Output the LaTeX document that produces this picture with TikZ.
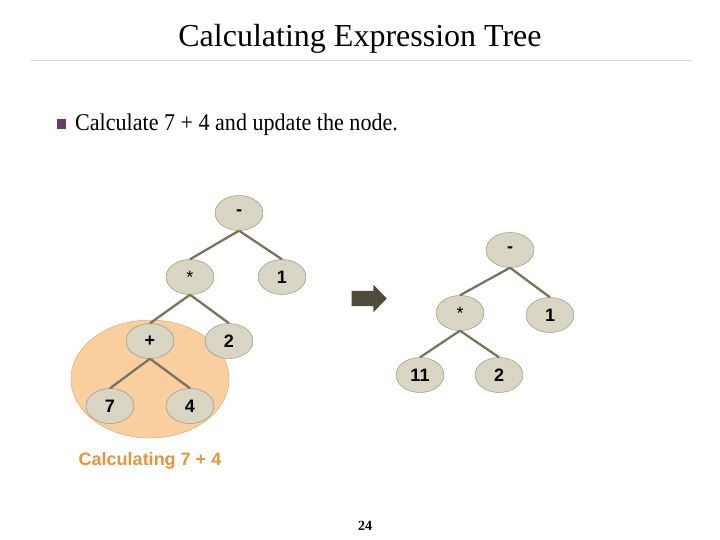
\documentclass[tikz,border=0pt]{standalone}
\usepackage{fontspec}
\setmainfont{Liberation Serif}
\setsansfont{Liberation Sans}
\usetikzlibrary{shapes.geometric, shapes.arrows}

\definecolor{nodefill}{HTML}{D8D6C2}
\definecolor{nodeline}{HTML}{8C8A72}
\definecolor{edgecol}{HTML}{78755C}
\definecolor{arrowcol}{HTML}{4E4D38}
\definecolor{hilite}{HTML}{F9CFA0}
\definecolor{hiliteline}{HTML}{E0A060}
\definecolor{orangetext}{HTML}{E8953A}
\definecolor{bulletcol}{HTML}{6A3C6C}

\begin{document}
\begin{tikzpicture}[
  x=1pt, y=-1pt,
  tnode/.style={draw=nodeline, fill=nodefill, ellipse, minimum width=48pt, minimum height=35pt,
    inner sep=0pt, font=\sffamily\bfseries\fontsize{18}{20}\selectfont},
  edge/.style={edgecol, line width=2.3pt}
]
\useasboundingbox (0,0) rectangle (720,540);

% title and bullet
\node[anchor=base] (title) at (360,47) {\fontsize{32}{36}\selectfont Calculating Expression Tree};
\draw[black!15, line width=0.8pt] (30,60) -- (692,60);
\node[fill=bulletcol, minimum width=9pt, minimum height=10pt, inner sep=0pt] (bullet) at (61.5,124) {};
\node[anchor=base west, inner sep=0pt, xscale=0.92] (task) at (75,131)
  {\fontsize{24}{28}\selectfont Calculate 7 + 4 and update the node.};

% highlighted subtree
\node[draw=hiliteline, fill=hilite, ellipse, minimum width=158pt, minimum height=118pt] (zone) at (150,379) {};

% tree before
\node[tnode] (minus) at (239,213) {-};
\node[tnode] (times) at (190,277) {\mdseries *};
\node[tnode] (one) at (282,277) {1};
\node[tnode] (plus) at (150,341) {+};
\node[tnode] (two) at (229,341) {2};
\node[tnode] (seven) at (110,406) {7};
\node[tnode] (four) at (190,406) {4};
\draw[edge] (minus.south) -- (times.north);
\draw[edge] (minus.south) -- (one.north);
\draw[edge] (times.south) -- (plus.north);
\draw[edge] (times.south) -- (two.north);
\draw[edge] (plus.south) -- (seven.north);
\draw[edge] (plus.south) -- (four.north);

\node[text=orangetext, font=\sffamily\bfseries\fontsize{18}{20}\selectfont] (caption) at (150,461) {Calculating 7 + 4};

% arrow between trees
\node[single arrow, fill=arrowcol, minimum height=35pt, minimum width=0pt, inner sep=7.5pt,
  single arrow head extend=6pt, single arrow tip angle=92] (step) at (365.5,298.5) {};

% tree after
\node[tnode] (rminus) at (510,250) {-};
\node[tnode] (rtimes) at (460,313) {\mdseries *};
\node[tnode] (rone) at (550,315) {1};
\node[tnode] (releven) at (420,375) {11};
\node[tnode] (rtwo) at (499,375) {2};
\draw[edge] (rminus.south) -- (rtimes.north);
\draw[edge] (rminus.south) -- (rone.north);
\draw[edge] (rtimes.south) -- (releven.north);
\draw[edge] (rtimes.south) -- (rtwo.north);

\node[font=\bfseries\fontsize{14}{16}\selectfont] (page) at (365,526) {24};
\end{tikzpicture}
\end{document}
